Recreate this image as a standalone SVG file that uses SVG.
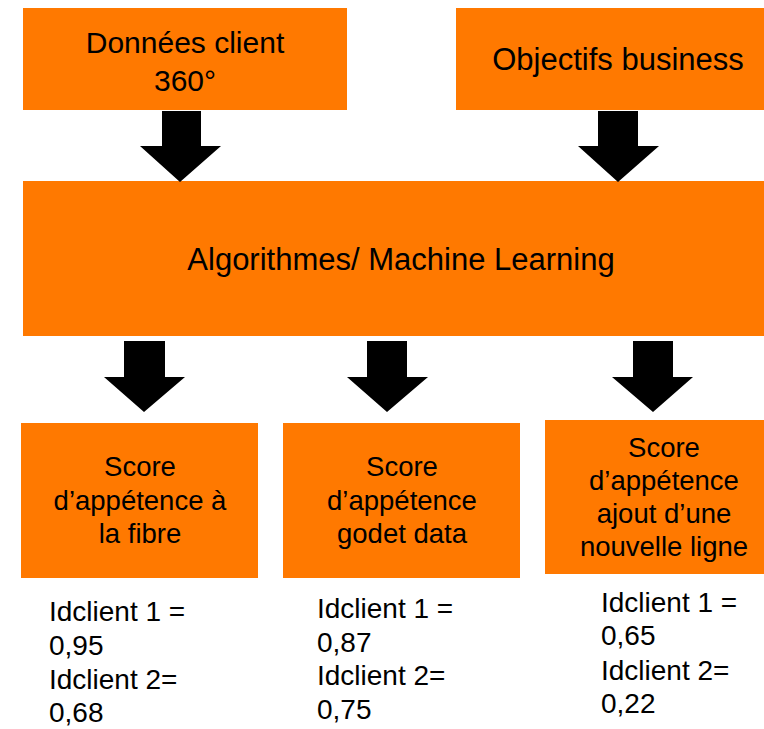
<svg xmlns="http://www.w3.org/2000/svg" width="764" height="729" viewBox="0 0 764 729">
  <style>
    .box { fill: #FF7900; }
    .arrow { fill: #000000; }
    text { font-family: "Liberation Sans", Arial, sans-serif; fill: #000000; }
    .lbl { font-size: 30px; text-anchor: middle; }
    .big { font-size: 31px; text-anchor: middle; }
    .sc { font-size: 27.5px; text-anchor: middle; }
    .val { font-size: 28px; }
  </style>
  <rect width="764" height="729" fill="#ffffff"/>

  <g id="donnees">
    <rect class="box" x="23" y="8" width="324" height="102"/>
    <text class="lbl" x="185" y="53">Données client</text>
    <text class="lbl" x="185" y="91">360°</text>
  </g>

  <g id="objectifs">
    <rect class="box" x="456" y="8" width="325" height="102"/>
    <text class="big" x="618" y="70">Objectifs business</text>
  </g>

  <g id="algorithmes">
    <rect class="box" x="23" y="181" width="760" height="155"/>
    <text class="big" x="401" y="270">Algorithmes/ Machine Learning</text>
  </g>

  <g id="score-fibre">
    <rect class="box" x="21" y="423" width="237" height="155"/>
    <text class="sc" x="140" y="476">Score</text>
    <text class="sc" x="140" y="510">d’appétence à</text>
    <text class="sc" x="140" y="543">la fibre</text>
  </g>

  <g id="score-godet">
    <rect class="box" x="283" y="423" width="237" height="155"/>
    <text class="sc" x="402" y="476">Score</text>
    <text class="sc" x="402" y="510">d’appétence</text>
    <text class="sc" x="402" y="543">godet data</text>
  </g>

  <g id="score-ligne">
    <rect class="box" x="545" y="420" width="238" height="154"/>
    <text class="sc" x="664" y="457">Score</text>
    <text class="sc" x="664" y="490">d’appétence</text>
    <text class="sc" x="664" y="523">ajout d’une</text>
    <text class="sc" x="664" y="556">nouvelle ligne</text>
  </g>

  <g id="valeurs-fibre">
    <text class="val" x="49" y="621">Idclient 1 =</text>
    <text class="val" x="49" y="655">0,95</text>
    <text class="val" x="49" y="689">Idclient 2=</text>
    <text class="val" x="49" y="722">0,68</text>
  </g>

  <g id="valeurs-godet">
    <text class="val" x="317" y="618">Idclient 1 =</text>
    <text class="val" x="317" y="652">0,87</text>
    <text class="val" x="317" y="685">Idclient 2=</text>
    <text class="val" x="317" y="719">0,75</text>
  </g>

  <g id="valeurs-ligne">
    <text class="val" x="601" y="612">Idclient 1 =</text>
    <text class="val" x="601" y="645">0,65</text>
    <text class="val" x="601" y="680">Idclient 2=</text>
    <text class="val" x="601" y="713">0,22</text>
  </g>

  <g id="connectors">
    <!-- block arrows: shaft then triangular head -->
    <polygon class="arrow" points="162,111 201,111 201,146 221,146 180,182 140,146 162,146"/>
    <polygon class="arrow" points="598,111 638,111 638,146 659,146 618,182 578,146 598,146"/>
    <polygon class="arrow" points="124,341 165,341 165,377 185,377 144,412 104,377 124,377"/>
    <polygon class="arrow" points="367,341 407,341 407,377 428,377 387,412 347,377 367,377"/>
    <polygon class="arrow" points="633,341 673,341 673,377 693,377 653,412 612,377 633,377"/>
  </g>
</svg>
